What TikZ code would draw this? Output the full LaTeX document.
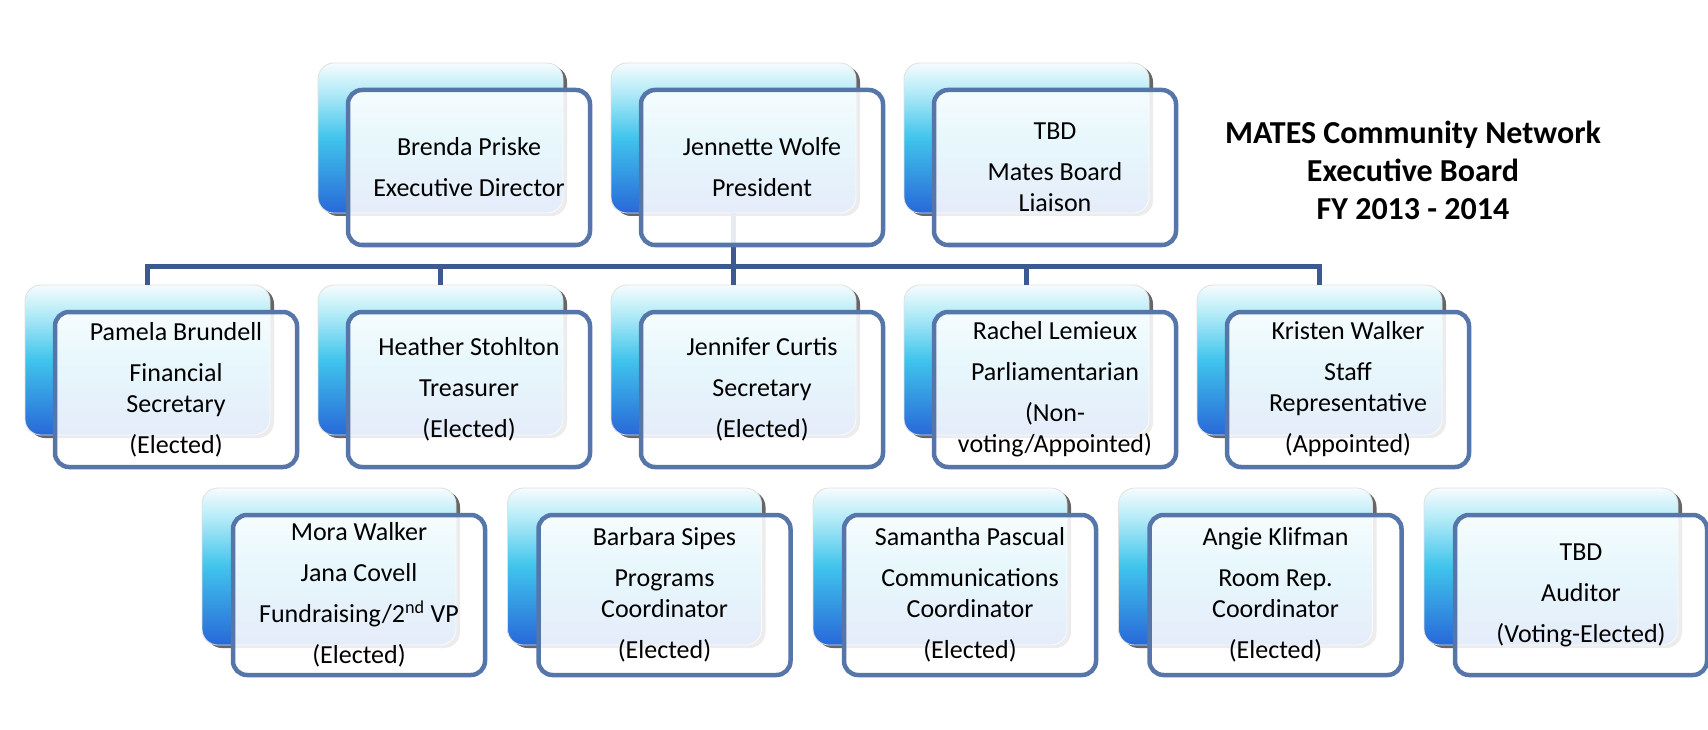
\documentclass[tikz,border=0pt]{standalone}
\usepackage{fontspec}
\setmainfont{Carlito}
\definecolor{bordblue}{RGB}{86,118,170}
\definecolor{linkblue}{RGB}{60,90,145}
\definecolor{btop}{RGB}{246,252,254}
\definecolor{blight}{RGB}{176,234,247}
\definecolor{bmid}{RGB}{64,196,236}
\definecolor{bbot}{RGB}{40,104,216}
\pgfdeclareverticalshading{backshade}{100bp}{color(0bp)=(bbot); color(25bp)=(bbot); color(50bp)=(bmid); color(65bp)=(blight); color(75bp)=(btop); color(100bp)=(btop)}
\tikzset{
  backbox/.style={rectangle, rounded corners=16pt, minimum width=245pt, minimum height=150pt,
    inner sep=0pt, outer sep=0pt, shading=backshade, draw=black!12, line width=0.8pt, anchor=north west},
  shadowbox/.style={rectangle, rounded corners=16pt, minimum width=245pt, minimum height=150pt,
    inner sep=0pt, outer sep=0pt, fill=black!60, anchor=north west},
  frontbox/.style={rectangle, rounded corners=14pt, minimum width=242pt, minimum height=155pt,
    inner sep=0pt, outer sep=0pt, draw=bordblue, line width=4.5pt, fill=white, fill opacity=0.88,
    text opacity=1, draw opacity=1, align=center, anchor=north west, font=\fontsize{26}{31}\selectfont},
  big/.style={minimum width=254pt, minimum height=157pt},
  bigfront/.style={minimum width=252pt, minimum height=160pt},
  link/.style={draw=linkblue, line width=5pt, line join=miter},
  titletext/.style={align=center, font=\fontsize{32}{38}\selectfont\bfseries, inner sep=0pt},
}
\begin{document}
\begin{tikzpicture}[x=1pt, y=-1pt]
\fill[white] (0,0) rectangle (1708,730);
\useasboundingbox (0,0) rectangle (1708,730);

% shadows
\foreach \xx/\yy in {318/63, 611/63, 904/63, 25/285, 318/285, 611/285, 904/285, 1197/285}
  \node[shadowbox] at (\xx+4,\yy+3) {};
\foreach \xx in {202, 507.5, 813, 1118.5, 1424}
  \node[shadowbox, big] at (\xx+4,491) {};

% back boxes, top row
\node[backbox] (edb) at (318,63) {};
\node[backbox] (presb) at (611,63) {};
\node[backbox] (liab) at (904,63) {};
% back boxes, row 2
\node[backbox] (finb) at (25,285) {};
\node[backbox] (treb) at (318,285) {};
\node[backbox] (secb) at (611,285) {};
\node[backbox] (parb) at (904,285) {};
\node[backbox] (stab) at (1197,285) {};
% back boxes, row 3
\node[backbox, big] (funb) at (202,488) {};
\node[backbox, big] (prob) at (507.5,488) {};
\node[backbox, big] (comb) at (813,488) {};
\node[backbox, big] (roob) at (1118.5,488) {};
\node[backbox, big] (audb) at (1424,488) {};

% connectors
\coordinate (bus) at (0,266);
\draw[link] (finb.north) -- (finb.north |- bus) -- (stab.north |- bus) -- (stab.north);
\draw[link] (treb.north |- bus) -- (treb.north);
\draw[link] (secb.north |- bus) -- (secb.north);
\draw[link] (parb.north |- bus) -- (parb.north);
\draw[link] (presb.south) -- (presb.south |- bus);

% front boxes, top row
\node[frontbox] (ed) at (348,90) {Brenda Priske\\[10pt]Executive Director};
\node[frontbox] (pres) at (641,90) {Jennette Wolfe\\[10pt]President};
\node[frontbox] (lia) at (934,90) {TBD\\[10pt]Mates Board\\Liaison};
% row 2
\node[frontbox] (fin) at (55,312) {Pamela Brundell\\[10pt]Financial\\Secretary\\[10pt](Elected)};
\node[frontbox] (tre) at (348,312) {Heather Stohlton\\[10pt]Treasurer\\[10pt](Elected)};
\node[frontbox] (sec) at (641,312) {Jennifer Curtis\\[10pt]Secretary\\[10pt](Elected)};
\node[frontbox] (par) at (934,312) {Rachel Lemieux\\[10pt]Parliamentarian\\[10pt](Non-\\voting/Appointed)};
\node[frontbox] (sta) at (1227,312) {Kristen Walker\\[10pt]Staff\\Representative\\[10pt](Appointed)};
% row 3
\node[frontbox, bigfront] (fun) at (233,515) {Mora Walker\\[10pt]Jana Covell\\[10pt]Fundraising/2\textsuperscript{nd} VP\\[10pt](Elected)};
\node[frontbox, bigfront] (pro) at (538.5,515) {Barbara Sipes\\[10pt]Programs\\Coordinator\\[10pt](Elected)};
\node[frontbox, bigfront] (com) at (844,515) {Samantha Pascual\\[10pt]Communications\\Coordinator\\[10pt](Elected)};
\node[frontbox, bigfront] (roo) at (1149.5,515) {Angie Klifman\\[10pt]Room Rep.\\Coordinator\\[10pt](Elected)};
\node[frontbox, bigfront] (aud) at (1455,515) {TBD\\[10pt]Auditor\\[10pt](Voting-Elected)};

% title
\node[titletext] (title) at (1413,170) {MATES Community Network\\Executive Board\\FY 2013 - 2014};
\end{tikzpicture}
\end{document}
